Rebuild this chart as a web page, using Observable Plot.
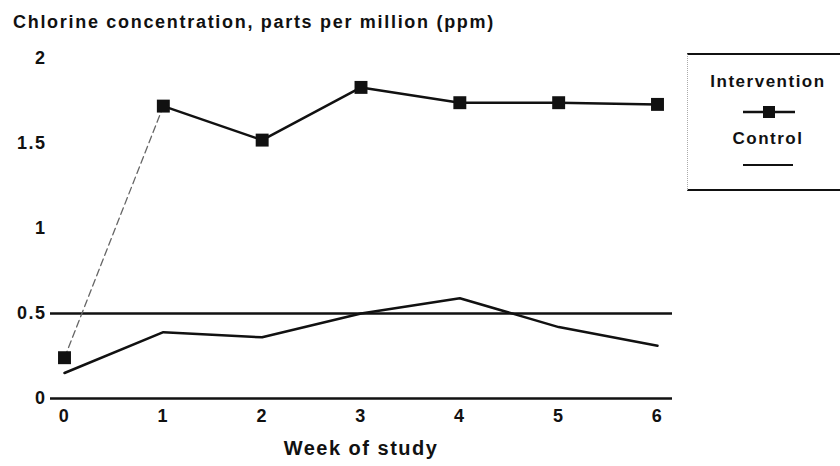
<!DOCTYPE html>
<html><head><meta charset="utf-8">
<script src="https://cdn.jsdelivr.net/npm/d3@7"></script>
<script src="https://cdn.jsdelivr.net/npm/@observablehq/plot@0.6"></script>
<style>
body{margin:0;background:#fff;font-family:"Liberation Sans",Arial,sans-serif;}
#wrap{position:relative;width:840px;height:466px;overflow:hidden}
#title{position:absolute;left:13px;top:12px;font-weight:bold;font-size:18px;letter-spacing:1.7px;color:#111;white-space:nowrap}
#legend{position:absolute;left:687px;top:53px;width:160px;height:138px;border-top:2.5px solid #111;border-bottom:2.5px solid #111;border-left:1px dotted #aaa;box-sizing:border-box;font-weight:bold;color:#111;}
#legend .lab{position:absolute;left:0;width:160px;text-align:center;font-size:17px;letter-spacing:1.5px;white-space:nowrap}
</style></head>
<body>
<div id="wrap">
<div id="chart"></div>
<div id="title">Chlorine concentration, parts per million (ppm)</div>
<div id="legend">
  <div class="lab" style="top:17px">Intervention</div>
  <svg style="position:absolute;left:55px;top:49px" width="52" height="16"><line x1="0" y1="8" x2="52" y2="8" stroke="#111" stroke-width="2.5"/><rect x="20" y="2" width="12" height="12" fill="#111"/></svg>
  <div class="lab" style="top:74px">Control</div>
  <svg style="position:absolute;left:55px;top:107px" width="50" height="6"><line x1="0" y1="3" x2="50" y2="3" stroke="#111" stroke-width="2"/></svg>
</div>
</div>
<script>
const weeks = [0, 1, 2, 3, 4, 5, 6];
const intervention = [0.24, 1.72, 1.52, 1.83, 1.74, 1.74, 1.73];
const control = [0.15, 0.39, 0.36, 0.50, 0.59, 0.42, 0.31];
const yTicks = [0, 0.5, 1, 1.5, 2];
const yTickLabels = ["0", "0.5", "1", "1.5", "2"];
const referenceLevel = 0.5;

const interv = weeks.map((w, i) => ({week: w, value: intervention[i]}));
const ctrl = weeks.map((w, i) => ({week: w, value: control[i]}));

const chart = Plot.plot({
  width: 840,
  height: 466,
  marginTop: 58,
  marginBottom: 68,
  marginLeft: 64,
  marginRight: 183,
  style: {fontFamily: "'Liberation Sans', Arial, sans-serif", fontWeight: "bold", fontSize: "18px", color: "#111", background: "transparent", letterSpacing: "1.5px"},
  x: {domain: [0, 6]},
  y: {domain: [0, 2]},
  marks: [
    Plot.axisX(weeks, {tickSize: 0, tickPadding: 11, tickFormat: d => String(d), fontSize: 18, label: null}),
    Plot.axisX({ticks: [], label: "Week of study", labelAnchor: "center", labelArrow: "none", labelOffset: 56, tickSize: 0, fontSize: 20}),
    Plot.axisY(yTicks, {tickSize: 0, tickPadding: 18, tickFormat: (d, i) => yTickLabels[i], fontSize: 18, label: null}),
    Plot.ruleY([0], {stroke: "#111", strokeWidth: 2.5, insetLeft: -14, insetRight: -15}),
    Plot.ruleY([referenceLevel], {stroke: "#111", strokeWidth: 2.5, insetLeft: -14, insetRight: -15}),
    Plot.line(ctrl, {x: "week", y: "value", stroke: "#111", strokeWidth: 2.5}),
    Plot.line(interv.slice(0, 2), {x: "week", y: "value", stroke: "#666", strokeWidth: 1.3, strokeDasharray: "7,4"}),
    Plot.line(interv.slice(1), {x: "week", y: "value", stroke: "#111", strokeWidth: 2.5}),
    Plot.dot(interv, {x: "week", y: "value", symbol: "square", r: 7.3, fill: "#111", stroke: "none"})
  ]
});
document.getElementById("chart").appendChild(chart);
</script>
</body></html>
